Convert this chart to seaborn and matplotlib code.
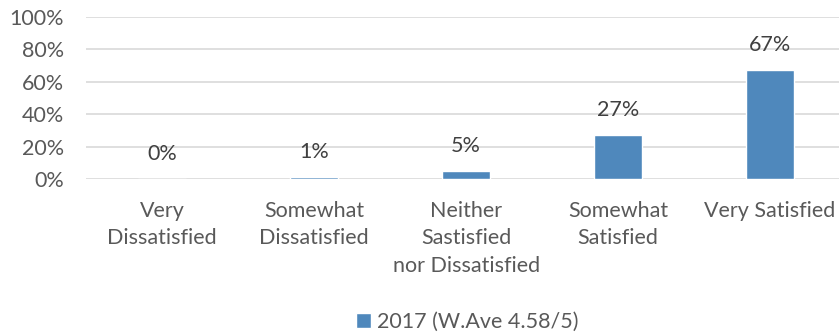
import matplotlib
matplotlib.use("Agg")
import matplotlib.pyplot as plt
import seaborn as sns
import pandas as pd

categories = ["Very\nDissatisfied", "Somewhat\nDissatisfied", "Neither\nSastisfied\nnor Dissatisfied",
              "Somewhat\nSatisfied", "Very Satisfied"]
values = [0.0, 0.01, 0.05, 0.27, 0.67]
value_labels = ["0%", "1%", "5%", "27%", "67%"]
series_name = "2017 (W.Ave 4.58/5)"
yticks = [0, 0.2, 0.4, 0.6, 0.8, 1.0]
ytick_labels = ["0%", "20%", "40%", "60%", "80%", "100%"]

sns.set_theme(style="white")
plt.rcParams['font.family'] = ['Lato', 'DejaVu Sans']

TXT = "#595959"
BAR = "#4f88bc"
FS = 15.5

df = pd.DataFrame({"cat": categories, "val": values, "series": series_name})

fig = plt.figure(figsize=(8.39, 3.35), dpi=100)
ax = fig.add_axes([0.1025, 0.4657, 0.906, 0.4836])
sns.barplot(data=df, x="cat", y="val", hue="series", palette=[BAR], width=0.32,
            ax=ax, saturation=1, legend=True)

ax.set_ylim(0, 1.0)
ax.set_xlim(-0.5, 4.5)
ax.set_yticks(yticks)
ax.set_yticklabels(ytick_labels, color=TXT, fontsize=FS)
ax.tick_params(axis='y', length=0, pad=16)
ax.tick_params(axis='x', length=0, pad=16)
for t in ax.get_xticklabels():
    t.set_color(TXT)
    t.set_fontsize(FS)
    t.set_linespacing(1.45)
ax.set_xlabel("")
ax.set_ylabel("")
for y in yticks:
    ax.axhline(y, color="#d9d9d9", lw=1.2, zorder=0)
for s in ax.spines.values():
    s.set_visible(False)

ax.bar_label(ax.containers[0], labels=value_labels, padding=11, color="#404040", fontsize=FS)

handles, labels = ax.get_legend_handles_labels()
ax.get_legend().remove()
leg = fig.legend(handles, labels, loc="center", bbox_to_anchor=(0.557, 0.04), frameon=False,
                 fontsize=FS, handlelength=0.7, handleheight=0.7, handletextpad=0.3)
for t in leg.get_texts():
    t.set_color(TXT)

fig.savefig("out.png", dpi=100)
